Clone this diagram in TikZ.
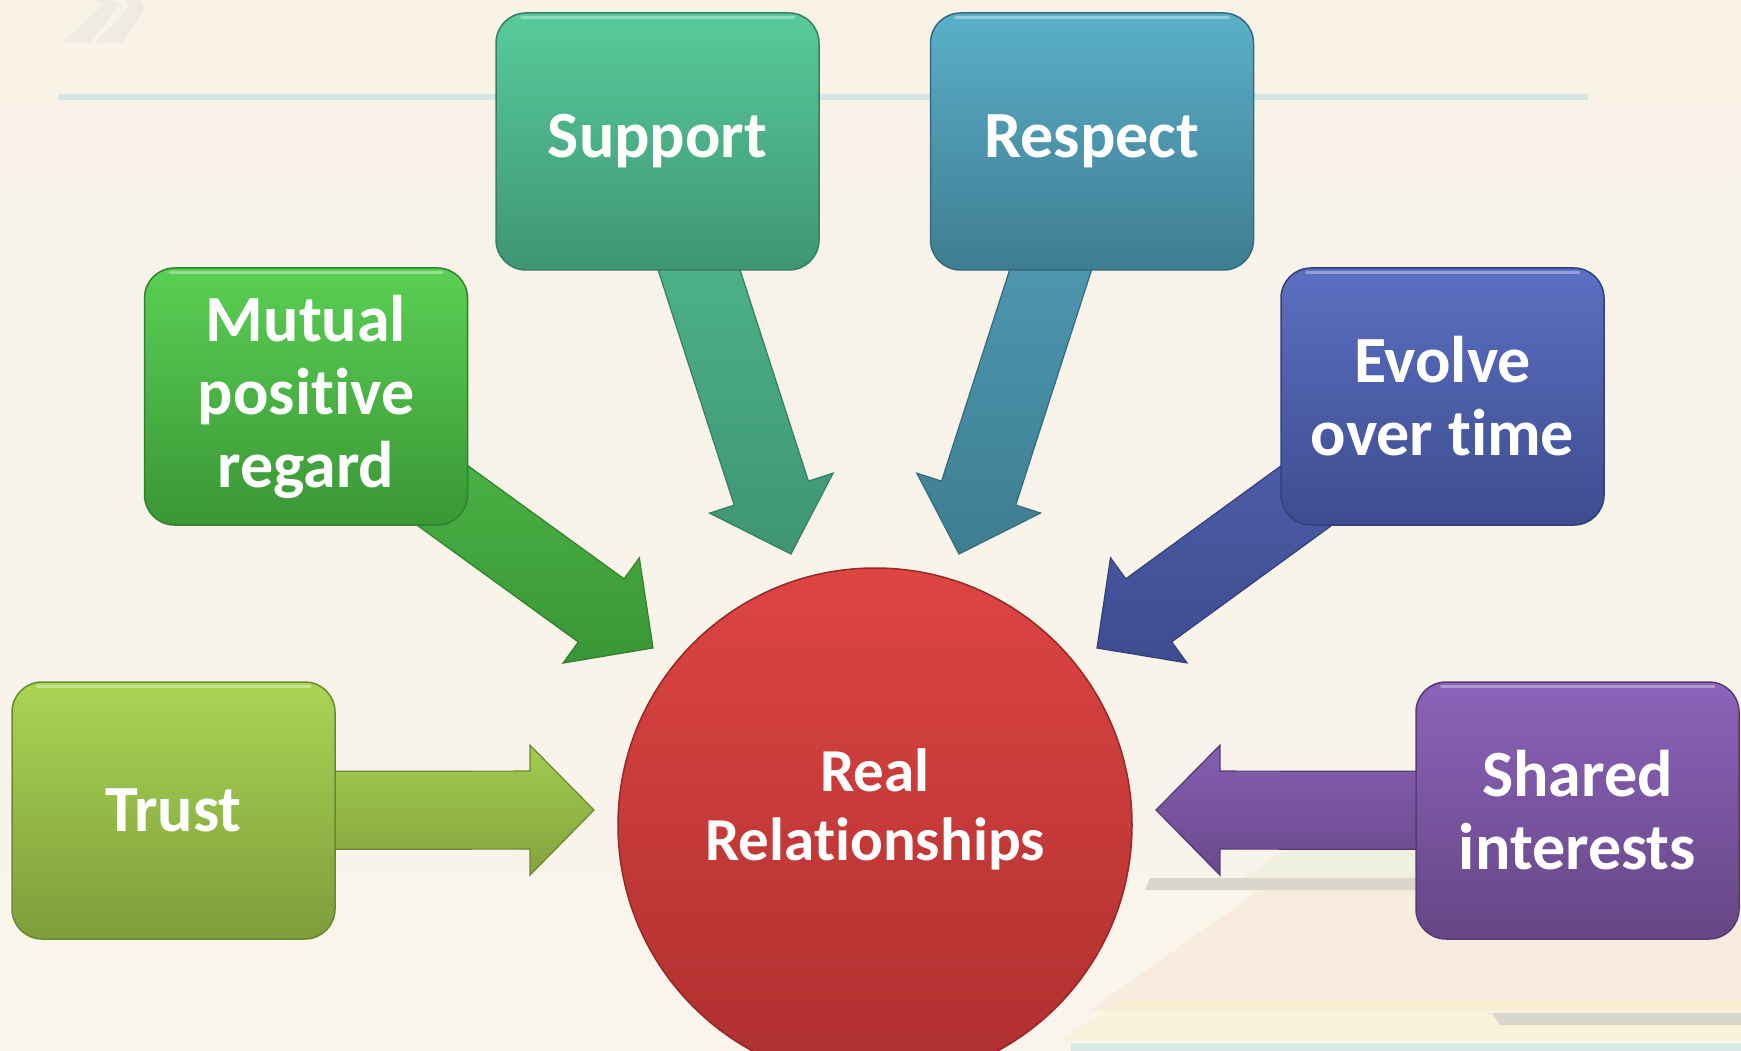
\documentclass[tikz,border=0pt]{standalone}
\usepackage{fontspec}
\setmainfont{Carlito}[RawFeature={-liga}]
\usetikzlibrary{calc}
\pgfdeclarelayer{bgl}\pgfdeclarelayer{arl}\pgfsetlayers{bgl,arl,main}
\definecolor{bgT}{HTML}{F8F2E7}\definecolor{bgM}{HTML}{FBF9F4}\definecolor{bgB}{HTML}{F9F5EC}
\definecolor{chev}{HTML}{EEECE2}\definecolor{guide}{HTML}{D6E5DF}
\definecolor{peach}{HTML}{F7E4D2}\definecolor{paley}{HTML}{F8F0CC}\definecolor{paleg}{HTML}{E9EDDA}
\definecolor{grayb}{HTML}{DAD6CC}\definecolor{teall}{HTML}{D8EAE4}
\definecolor{supT}{HTML}{57CB9B}\definecolor{supB}{HTML}{3F9574}\definecolor{supD}{HTML}{367F63}
\definecolor{resT}{HTML}{5AAFC9}\definecolor{resB}{HTML}{3E7D91}\definecolor{resD}{HTML}{356B7C}
\definecolor{mutT}{HTML}{5ACF53}\definecolor{mutB}{HTML}{3A9636}\definecolor{mutD}{HTML}{32812E}
\definecolor{evoT}{HTML}{5B70C2}\definecolor{evoB}{HTML}{3E4C8F}\definecolor{evoD}{HTML}{34407A}
\definecolor{truT}{HTML}{A9D554}\definecolor{truB}{HTML}{7E9D3B}\definecolor{truD}{HTML}{6C8732}
\definecolor{shaT}{HTML}{8B63B9}\definecolor{shaB}{HTML}{664686}\definecolor{shaD}{HTML}{573C73}
\definecolor{cirT}{HTML}{DD4543}\definecolor{cirB}{HTML}{AE2F2F}\definecolor{cirD}{HTML}{962828}
\tikzset{
  box/.style={rounded corners=30pt, minimum width=323pt, minimum height=257pt,
    inner sep=0pt, align=center, text=white, line width=1.5pt,
    font=\fontsize{66}{73}\selectfont\bfseries},
  label txt/.style={align=center, text=white, font=\fontsize{61}{69}\selectfont\bfseries},
  arr/.style={line width=1.2pt, line join=miter}
}
\newcommand{\barrow}[3]{%
  \coordinate (hb) at ($(#2)!64pt!(#1)$);
  \path[arr,#3] ($(#1)!39pt!90:(hb)$) -- ($(hb)!39pt!90:(#2)$) -- ($(hb)!65pt!90:(#2)$)
    -- (#2) -- ($(hb)!65pt!-90:(#2)$) -- ($(hb)!39pt!-90:(#2)$) -- ($(#1)!39pt!-90:(hb)$) -- cycle;}
\newcommand{\shine}[1]{%
  \draw[white, opacity=0.35, line width=3pt, line cap=round]
    ([xshift=26pt,yshift=-5pt]#1.north west) -- ([xshift=-26pt,yshift=-5pt]#1.north east);}
\begin{document}
\begin{tikzpicture}[x=1pt,y=-1pt]
\useasboundingbox (0,0) rectangle (1741,1051);
\begin{pgfonlayer}{bgl}
  \shade[top color=bgT, middle color=bgM, bottom color=bgB] (0,0) rectangle (1741,1051);
  % faint chevrons
  \fill[chev] (61,43) -- (90,43) -- (121,4) -- (110,0) -- (93,0) -- (104,4) -- cycle;
  \fill[chev] (95,43) -- (122,43) -- (145,8) -- (140,0) -- (125,0) -- (130,6) -- cycle;
  % thin guide line
  \draw[line width=6pt, guide] (58,97) -- (1588,97);
  % bottom-right faint stripes
  \fill[peach, opacity=0.5] (1090,1010) -- (1260,890) -- (1741,890) -- (1741,1010) -- cycle;
  \fill[paley, opacity=0.5] (1060,1040) -- (1120,1000) -- (1741,1000) -- (1741,1040) -- cycle;
  \fill[paleg, opacity=0.55] (1240,880) -- (1300,840) -- (1741,840) -- (1741,880) -- cycle;
  \fill[grayb] (1150,878) -- (1420,878) -- (1420,890) -- (1145,890) -- cycle;
  \fill[grayb] (1492,1013) -- (1741,1013) -- (1741,1025) -- (1500,1025) -- cycle;
  \fill[teall] (1071,1043) -- (1741,1043) -- (1741,1051) -- (1071,1051) -- cycle;
\end{pgfonlayer}

% nodes
\node[box, top color=supT, bottom color=supB, draw=supD] (support) at (657.5,141.5) {Support};
\node[box, top color=resT, bottom color=resB, draw=resD] (respect) at (1092,141.5) {Respect};
\node[box, top color=mutT, bottom color=mutB, draw=mutD] (mutual) at (306,396.5) {Mutual\\positive\\regard};
\node[box, top color=evoT, bottom color=evoB, draw=evoD] (evolve) at (1442.5,396.5) {Evolve\\over time};
\node[box, top color=truT, bottom color=truB, draw=truD] (trust) at (173.5,810.5) {Trust};
\node[box, top color=shaT, bottom color=shaB, draw=shaD] (shared) at (1577.5,810.5) {Shared\\interests};
\node[circle, minimum size=514pt, inner sep=0pt, top color=cirT, bottom color=cirB, draw=cirD, line width=1.5pt] (rr) at (875,825) {};
\node[label txt] (rrtext) at (875,809) {Real\\Relationships};
\foreach \b in {support,respect,mutual,evolve,trust,shared} {\shine{\b}}

% arrow tips
\coordinate (tipTrust) at (594,810);
\coordinate (tipShared) at (1156,810);
\coordinate (tipMutual) at (653,648);
\coordinate (tipEvolve) at (1097,648);
\coordinate (tipSupport) at (791,554);
\coordinate (tipRespect) at (959,554);

\begin{pgfonlayer}{arl}
  \barrow{trust.center}{tipTrust}{top color=truT!85!truB, bottom color=truB!90!truT, draw=truD}
  \barrow{shared.center}{tipShared}{top color=shaT!85!shaB, bottom color=shaB!90!shaT, draw=shaD}
  \barrow{mutual.center}{tipMutual}{top color=mutT!70!mutB, bottom color=mutB, draw=mutD}
  \barrow{evolve.center}{tipEvolve}{top color=evoT!70!evoB, bottom color=evoB, draw=evoD}
  \barrow{support.center}{tipSupport}{top color=supT!75!supB, bottom color=supB, draw=supD}
  \barrow{respect.center}{tipRespect}{top color=resT!75!resB, bottom color=resB, draw=resD}
\end{pgfonlayer}
\end{tikzpicture}
\end{document}
